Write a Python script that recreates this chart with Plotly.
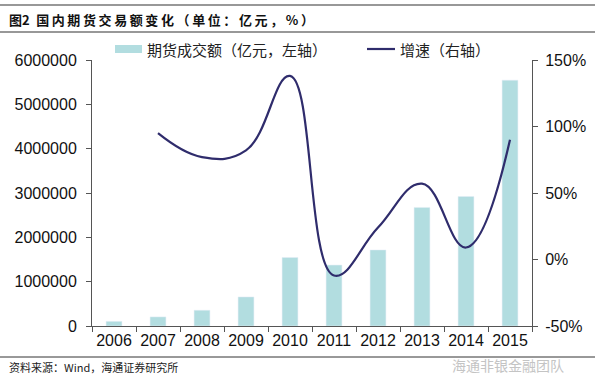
import plotly.graph_objects as go

years = ["2006", "2007", "2008", "2009", "2010", "2011", "2012", "2013", "2014", "2015"]
turnover = [105000, 205000, 355000, 655000, 1545000, 1375000, 1715000, 2675000, 2920000, 5545000]
growth = [None, 95, 77, 82, 138, -12, 24, 57, 9, 90]

left_ticks = [0, 1000000, 2000000, 3000000, 4000000, 5000000, 6000000]
right_ticks = [-50, 0, 50, 100, 150]

BAR_COLOR = "#b2dde0"
LINE_COLOR = "#2f2c6c"
AXIS_COLOR = "#555555"

W, H = 595, 375
L, R, T, B = 92, 532, 60, 326


def px(x):
    return (x - L) / (R - L)


def py(y):
    return (B - y) / (B - T)


fig = go.Figure()
fig.add_trace(go.Bar(x=years, y=turnover, marker_color=BAR_COLOR, width=0.36,
                     name="期货成交额（亿元，左轴）", showlegend=False))
fig.add_trace(go.Scatter(x=years, y=growth, yaxis="y2", mode="lines",
                         line=dict(color=LINE_COLOR, width=2.2, shape="spline", smoothing=1.2),
                         name="增速（右轴）", showlegend=False, connectgaps=False))

tick_font = dict(family="Liberation Sans, Arial, sans-serif", size=16, color="#111111")

fig.update_layout(
    width=W, height=H,
    margin=dict(l=L, r=W - R, t=T, b=H - B, autoexpand=False),
    paper_bgcolor="white", plot_bgcolor="white",
    xaxis=dict(type="category", showgrid=False, showline=True, linecolor=AXIS_COLOR, linewidth=1,
               ticks="outside", ticklen=5, tickcolor=AXIS_COLOR, tickson="boundaries",
               tickangle=0,
               tickfont=dict(family="Liberation Sans, Arial, sans-serif", size=16, color="#111111"),
               range=[-0.5, 9.5]),
    yaxis=dict(range=[0, 6000000], tickvals=left_ticks, ticktext=[str(v) for v in left_ticks],
               showgrid=False, zeroline=False, showline=True, linecolor=AXIS_COLOR, linewidth=1,
               ticks="outside", ticklen=5, tickcolor=AXIS_COLOR, tickfont=tick_font,
               ticklabelstandoff=6),
    yaxis2=dict(range=[-50, 150], tickvals=right_ticks, ticktext=[f"{v}%" for v in right_ticks],
                overlaying="y", side="right", showgrid=False, zeroline=False, showline=True,
                linecolor=AXIS_COLOR, linewidth=1, ticks="outside", ticklen=5, tickcolor=AXIS_COLOR,
                tickfont=tick_font, ticklabelstandoff=4),
)

cjk = "Noto Sans CJK SC"
thin = "\u2009"
title_text = ("图2" + "\u2002" + thin.join(list("国内期货交易额变化")) + thin
              + thin.join(list("（单位：亿元，%）")))

shapes = [
    dict(type="line", xref="paper", yref="paper", x0=px(0), x1=px(W), y0=py(5), y1=py(5),
         line=dict(color="#333333", width=1.2)),
    dict(type="line", xref="paper", yref="paper", x0=px(0), x1=px(W), y0=py(32), y1=py(32),
         line=dict(color="#333333", width=1.2)),
    dict(type="line", xref="paper", yref="paper", x0=px(0), x1=px(W), y0=py(357), y1=py(357),
         line=dict(color="#333333", width=1)),
    dict(type="rect", xref="paper", yref="paper", x0=px(115), x1=px(142), y0=py(53), y1=py(45),
         fillcolor=BAR_COLOR, line=dict(width=0)),
    dict(type="line", xref="paper", yref="paper", x0=px(367), x1=px(395), y0=py(49), y1=py(49),
         line=dict(color=LINE_COLOR, width=2.2)),
]
annotations = [
    dict(text="<b>" + title_text + "</b>", xref="paper", yref="paper",
         x=px(7), y=py(19), xanchor="left", yanchor="middle", showarrow=False,
         font=dict(family=cjk, size=13, color="#111111")),
    dict(text="期货成交额（亿元，左轴）", xref="paper", yref="paper",
         x=px(145), y=py(49), xanchor="left", yanchor="middle", showarrow=False,
         font=dict(family=cjk, size=15, color="#222222")),
    dict(text="增速（右轴）", xref="paper", yref="paper",
         x=px(398), y=py(49), xanchor="left", yanchor="middle", showarrow=False,
         font=dict(family=cjk, size=15, color="#222222")),
    dict(text="资料来源：Wind，海通证券研究所", xref="paper", yref="paper",
         x=px(7), y=py(367), xanchor="left", yanchor="middle", showarrow=False,
         font=dict(family=cjk, size=11, color="#222222")),
    dict(text="海通非银金融团队", xref="paper", yref="paper",
         x=px(450), y=py(365), xanchor="left", yanchor="middle", showarrow=False,
         font=dict(family=cjk, size=14, color="#c4c4c4")),
]
fig.update_layout(shapes=shapes, annotations=annotations)

fig.write_html("out.html", config={"displayModeBar": False},
               post_script="document.body.style.margin='0';document.body.style.overflow='hidden';")
